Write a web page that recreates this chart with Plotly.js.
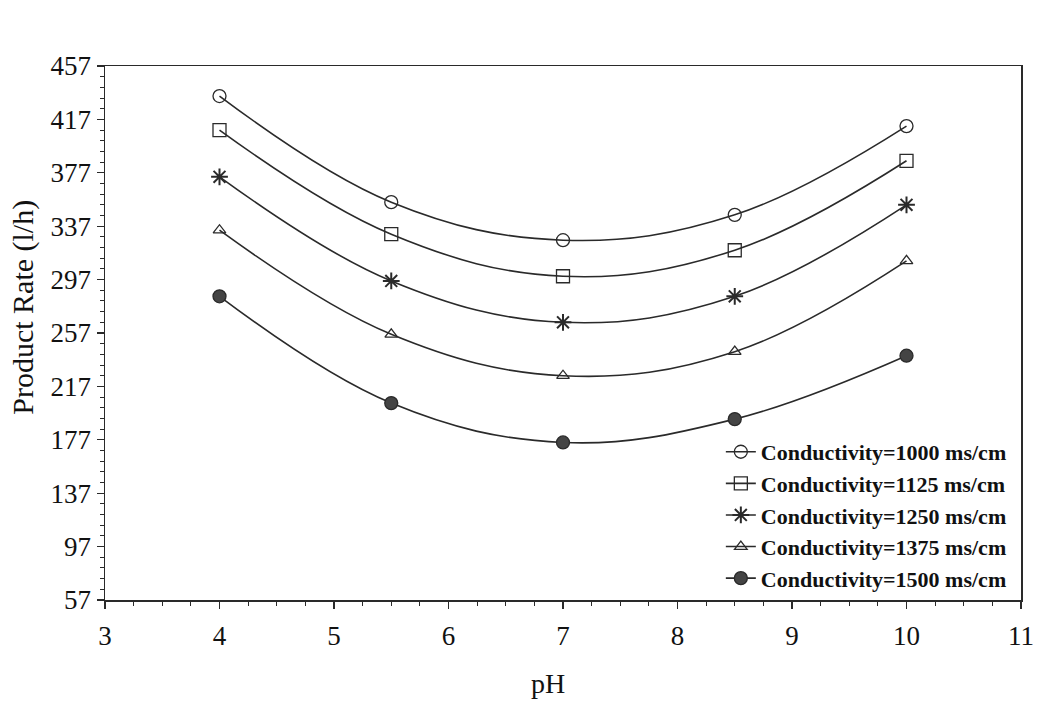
<!DOCTYPE html>
<html>
<head>
<meta charset="utf-8">
<script src="https://cdn.plot.ly/plotly-3.0.1.min.js"></script>
<style>html,body{margin:0;padding:0;background:#fff;}#chart{width:1042px;height:705px;}</style>
</head>
<body>
<div id="chart"></div>
<script>
const pH = [4, 5.5, 7, 8.5, 10];
const rate1000 = [434.5, 355, 326.5, 345.5, 412];
const rate1125 = [409, 331, 299.5, 319, 386];
const rate1250 = [374, 296, 265, 284.5, 353];
const rate1375 = [334, 256, 225, 243, 311];
const rate1500 = [284.5, 204.5, 175, 192.5, 240];
const seriesNames = [
  'Conductivity=1000 ms/cm',
  'Conductivity=1125 ms/cm',
  'Conductivity=1250 ms/cm',
  'Conductivity=1375 ms/cm',
  'Conductivity=1500 ms/cm'
];
const yTicks = [57, 97, 137, 177, 217, 257, 297, 337, 377, 417, 457];
const xTicks = [3, 4, 5, 6, 7, 8, 9, 10, 11];
const xTitle = 'pH';
const yTitle = 'Product Rate (l/h)';

const ink = '#2a2a2a';
const serif = 'Liberation Serif, Times New Roman, serif';
const symbols = ['circle-open', 'square-open', 'asterisk-open', 'triangle-up-open', 'circle'];
const allY = [rate1000, rate1125, rate1250, rate1375, rate1500];

const traces = allY.map((ys, i) => ({
  x: pH,
  y: ys,
  name: seriesNames[i],
  type: 'scatter',
  mode: 'lines+markers',
  line: {color: ink, width: 1.6, shape: 'spline', smoothing: 1.1},
  marker: {
    symbol: symbols[i],
    size: i === 3 ? 11 : (i === 2 ? 14 : 13),
    color: i === 4 ? '#444' : ink,
    line: {color: ink, width: i === 2 ? 2 : 1.3}
  }
}));

const tickFont = {family: serif, size: 27, color: '#111'};

const layout = {
  width: 1042,
  height: 705,
  paper_bgcolor: '#ffffff',
  plot_bgcolor: '#ffffff',
  margin: {l: 105, r: 21, t: 66, b: 105},
  showlegend: true,
  legend: {
    x: 0.99, y: 0.002, xanchor: 'right', yanchor: 'bottom',
    bgcolor: 'rgba(0,0,0,0)',
    font: {family: serif, size: 22, color: '#111', weight: 'bold'},
    tracegroupgap: 0,
    itemwidth: 30
  },
  xaxis: {
    range: [3, 11],
    tickvals: xTicks,
    ticktext: xTicks.map(String),
    ticks: 'outside', ticklen: 7, tickwidth: 1.3, tickcolor: ink,
    ticklabelstandoff: 4,
    minor: {dtick: 0.25, ticks: 'outside', ticklen: 4, tickcolor: ink, tickwidth: 1},
    showline: true, linecolor: ink, linewidth: 1.5, mirror: true,
    showgrid: false, zeroline: false,
    tickfont: tickFont
  },
  yaxis: {
    range: [57, 457],
    tickvals: yTicks,
    ticktext: yTicks.map(String),
    ticks: 'outside', ticklen: 7, tickwidth: 1.3, tickcolor: ink,
    minor: {dtick: 8, tick0: 57, ticks: 'outside', ticklen: 4, tickcolor: ink, tickwidth: 1},
    showline: true, linecolor: ink, linewidth: 1.5, mirror: true,
    showgrid: false, zeroline: false,
    tickfont: tickFont
  },
  annotations: [
    {text: xTitle, xref: 'paper', yref: 'paper', x: 0.484, y: -0.157,
     xanchor: 'center', yanchor: 'middle', showarrow: false,
     font: {family: serif, size: 28, color: '#111'}},
    {text: yTitle, xref: 'paper', yref: 'paper', x: -0.0896, y: 0.549,
     xanchor: 'center', yanchor: 'middle', showarrow: false, textangle: -90,
     font: {family: serif, size: 30, color: '#111'}}
  ]
};

Plotly.newPlot('chart', traces, layout, {displayModeBar: false, staticPlot: true});
</script>
</body>
</html>
